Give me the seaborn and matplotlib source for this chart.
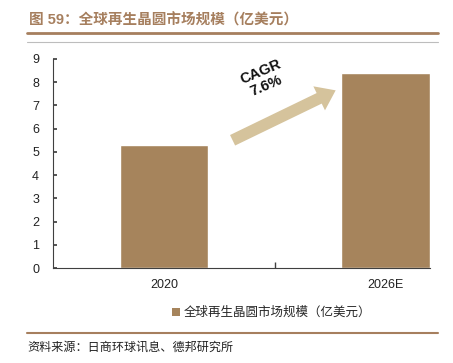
import pandas as pd
import matplotlib
matplotlib.use("Agg")
import matplotlib.pyplot as plt
import seaborn as sns
from matplotlib.lines import Line2D
from matplotlib.patches import Patch

years = ["2020", "2026E"]
market_size = [5.3, 8.4]
series_name = "全球再生晶圆市场规模（亿美元）"
title = "图 59：全球再生晶圆市场规模（亿美元）"
source_note = "资料来源：日商环球讯息、德邦研究所"
cagr_text = "CAGR\n7.6%"

bar_color = "#A6845C"
arrow_color = "#D5C39C"
brown = "#A67F5E"

sns.set_theme(style="ticks")
plt.rcParams['font.family'] = ['Liberation Sans', 'Noto Sans CJK SC', 'DejaVu Sans']

fig = plt.figure(figsize=(4.53, 3.63), dpi=100)
ax = fig.add_axes([0.117, 0.2617, 0.832, 0.5758])

df = pd.DataFrame({"year": years, "value": market_size})
sns.barplot(data=df, x="year", y="value", color=bar_color, width=0.4,
            saturation=1, ax=ax)

ax.set_xlim(-0.5, 1.2)
ax.set_ylim(0, 9)
ax.set_yticks(range(0, 10))
ax.set_xlabel("")
ax.set_ylabel("")
ax.set_xticks([0, 1])
ax.set_xticklabels(years, fontsize=9)
ax.tick_params(axis='x', length=0, pad=8)
ax.set_xticks([0.5], minor=True)
ax.tick_params(axis='x', which='minor', direction='in', length=4, color='#404040')
ax.tick_params(axis='y', direction='in', length=3, labelsize=9, pad=10, color='#404040')
for lbl in ax.get_yticklabels() + ax.get_xticklabels():
    lbl.set_color('#222222')
ax.spines['top'].set_visible(False)
ax.spines['right'].set_visible(False)
ax.spines['left'].set_color('#404040')
ax.spines['bottom'].set_color('#404040')
ax.spines['left'].set_linewidth(0.8)
ax.spines['bottom'].set_linewidth(0.8)

# CAGR arrow
ax.annotate("", xy=(0.775, 7.65), xytext=(0.31, 5.5),
            arrowprops=dict(arrowstyle="simple,head_width=1.6,head_length=1.1,tail_width=0.7",
                            color=arrow_color, lw=0, shrinkA=0, shrinkB=0,
                            mutation_scale=12))
ax.text(0.45, 8.15, cagr_text, rotation=23, ha='center', va='center',
        fontsize=10.5, fontweight='bold', color='#111111', linespacing=1.1)

# header & footer
fig.text(0.064, 0.945, title, fontsize=10.5, fontweight='bold', color=brown,
         va='center', ha='left')
fig.add_artist(Line2D([0.06, 0.967], [0.909, 0.909], color=brown, lw=2))
fig.add_artist(Line2D([0.06, 0.967], [0.884, 0.884], color='#BDBDBD', lw=0.8))
fig.add_artist(Line2D([0.06, 0.967], [0.083, 0.083], color=brown, lw=1.5))
fig.text(0.06, 0.041, source_note, fontsize=8.7, color='#222222',
         va='center', ha='left')

handle = Patch(facecolor=bar_color, edgecolor='none')
fig.legend([handle], [series_name], loc='center', bbox_to_anchor=(0.6, 0.138),
           frameon=False, fontsize=9, handlelength=0.6, handleheight=0.6,
           handletextpad=0.3)

fig.savefig("out.png", dpi=100)
